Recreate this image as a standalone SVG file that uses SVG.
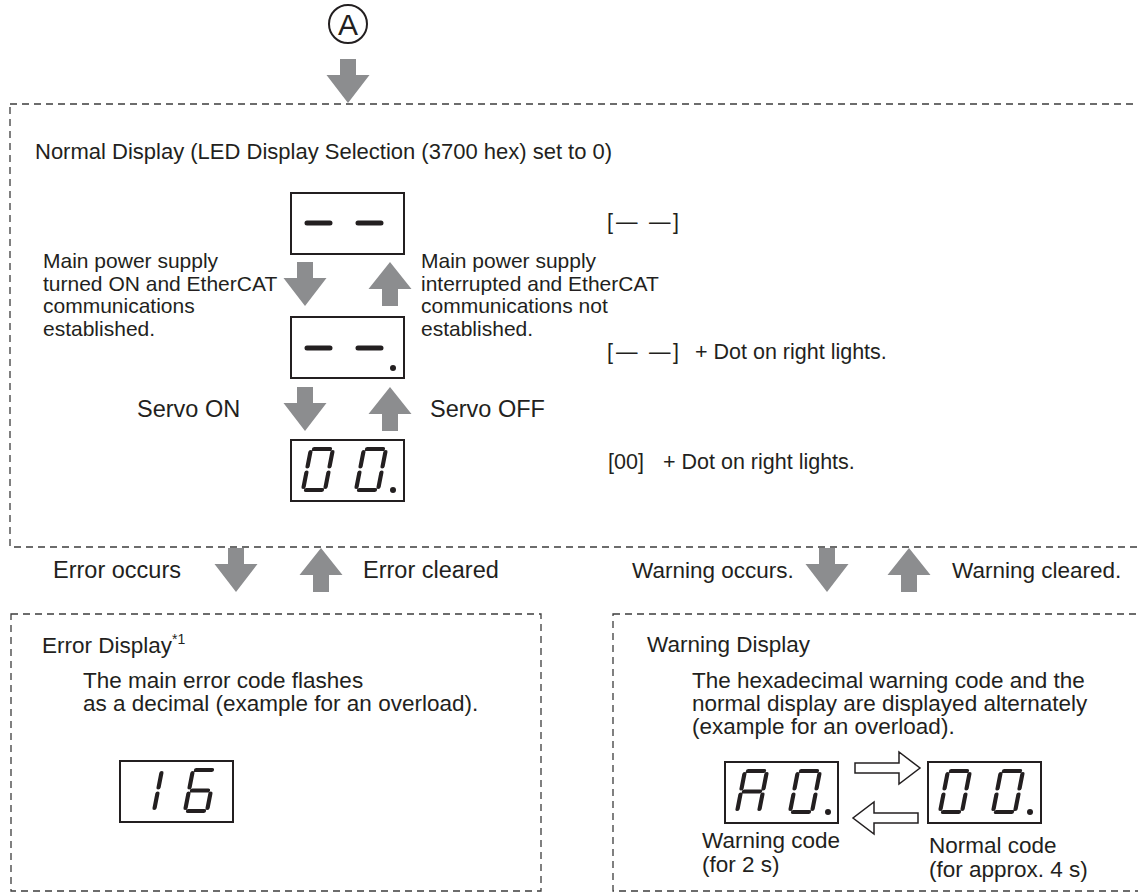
<svg xmlns="http://www.w3.org/2000/svg" width="1138" height="893" viewBox="0 0 1138 893">
<style>
text { font-family: "Liberation Sans", Arial, sans-serif; font-size: 22.5px; fill: #231f20; }
.sm { font-size: 21px; }
.md { font-size: 21.5px; }
.lg { font-size: 23.5px; }
.ttl { font-size: 22px; }
.circ { font-size: 30px; }
.frame { fill: none; stroke: #3c3c3c; stroke-width: 1.3; stroke-dasharray: 7 5; }
.led { fill: #fff; stroke: #231f20; stroke-width: 2; }
.seg { fill: none; stroke: #231f20; stroke-width: 4.2; stroke-linecap: round; }
.dash { fill: none; stroke: #231f20; stroke-width: 5; stroke-linecap: round; }
.dot { fill: #231f20; }
.garrow { fill: #8c8d8f; }
.harrow { fill: #fff; stroke: #231f20; stroke-width: 1.5; }
</style>
<defs>
  <path id="dn" d="M-8,0 H8 V16 H21.5 L0,44 L-21.5,16 H-8 Z"/>
  <path id="up" d="M-8,44 H8 V27 H21.5 L0,0 L-21.5,27 H-8 Z"/>
  <g id="g0" transform="skewX(-11)"><path class="seg" d="M3,-41H19 M22,-38V-23.5 M22,-17.5V-3 M3,0H19 M0,-17.5V-3 M0,-38V-23.5"/></g>
  <g id="gA" transform="skewX(-11)"><path class="seg" d="M3,-41H19 M22,-38V-23.5 M22,-17.5V-3 M0,-17.5V-3 M0,-38V-23.5 M3,-20.5H19"/></g>
  <g id="g1" transform="skewX(-11)"><path class="seg" d="M22,-38V-23.5 M22,-17.5V-3"/></g>
  <g id="g6" transform="skewX(-11)"><path class="seg" d="M3,-41H19 M0,-38V-23.5 M3,-20.5H19 M0,-17.5V-3 M3,0H19 M22,-17.5V-3"/></g>
</defs>

<g id="node-a">
  <circle cx="348" cy="24" r="19" fill="none" stroke="#231f20" stroke-width="2"/>
  <text class="circ" x="348" y="35" text-anchor="middle">A</text>
</g>

<g id="normal-display">
  <rect class="frame" x="10" y="104" width="1140" height="443"/>
  <text class="ttl" x="35" y="159">Normal Display (LED Display Selection (3700 hex) set to 0)</text>
</g>

<g id="disp-off">
  <rect class="led" x="291" y="193" width="113" height="61"/>
  <path class="dash" d="M307,223 H330 M358,223 H381"/>
  <text class="md" y="229"><tspan x="607">[</tspan><tspan x="616">—</tspan><tspan x="649">—</tspan><tspan x="673">]</tspan></text>
</g>

<g id="disp-dot">
  <rect class="led" x="291" y="317" width="113" height="61"/>
  <path class="dash" d="M307,348 H330 M358,348 H381"/>
  <circle class="dot" cx="393" cy="368" r="3"/>
  <text class="md" y="359"><tspan x="607">[</tspan><tspan x="616">—</tspan><tspan x="649">—</tspan><tspan x="673">]</tspan><tspan x="695">+ Dot on right lights.</tspan></text>
</g>

<g id="disp-00">
  <rect class="led" x="291" y="440" width="113" height="61"/>
  <use href="#g0" x="303" y="490"/>
  <use href="#g0" x="356" y="490"/>
  <circle class="dot" cx="393" cy="490" r="3"/>
  <text class="md" y="469"><tspan x="608">[00]</tspan><tspan x="663">+ Dot on right lights.</tspan></text>
</g>

<g id="labels-normal">
  <text class="sm" x="43" y="268">Main power supply</text>
  <text class="sm" x="43" y="291">turned ON and EtherCAT</text>
  <text class="sm" x="43" y="313">communications</text>
  <text class="sm" x="43" y="336">established.</text>
  <text class="sm" x="421" y="268">Main power supply</text>
  <text class="sm" x="421" y="291">interrupted and EtherCAT</text>
  <text class="sm" x="421" y="313">communications not</text>
  <text class="sm" x="421" y="336">established.</text>
  <text class="lg" x="137" y="417">Servo ON</text>
  <text class="lg" x="430" y="417">Servo OFF</text>
  <text class="lg" x="53" y="578">Error occurs</text>
  <text class="lg" x="363" y="578">Error cleared</text>
  <text x="632" y="578">Warning occurs.</text>
  <text x="952" y="578">Warning cleared.</text>
</g>

<g id="error-display">
  <rect class="frame" x="11" y="614" width="530" height="277"/>
  <text x="42" y="653">Error Display<tspan font-size="14" dy="-9">*1</tspan></text>
  <text x="83" y="688">The main error code flashes</text>
  <text x="83" y="711">as a decimal (example for an overload).</text>
  <rect class="led" x="120" y="761" width="113" height="61"/>
  <use href="#g1" x="132" y="811"/>
  <use href="#g6" x="185" y="811"/>
</g>

<g id="warning-display">
  <rect class="frame" x="613" y="614" width="540" height="277"/>
  <text x="647" y="652">Warning Display</text>
  <text x="692" y="688">The hexadecimal warning code and the</text>
  <text x="692" y="711">normal display are displayed alternately</text>
  <text x="692" y="734">(example for an overload).</text>
  <g id="warn-code">
    <rect class="led" x="725" y="762" width="113" height="61"/>
    <use href="#gA" x="737" y="812"/>
    <use href="#g0" x="790" y="812"/>
    <circle class="dot" cx="828" cy="812" r="3"/>
    <text x="702" y="848">Warning code</text>
    <text x="702" y="872">(for 2 s)</text>
  </g>
  <g id="normal-code">
    <rect class="led" x="928" y="762" width="113" height="61"/>
    <use href="#g0" x="940" y="812"/>
    <use href="#g0" x="993" y="812"/>
    <circle class="dot" cx="1030" cy="812" r="3"/>
    <text x="929" y="853">Normal code</text>
    <text x="929" y="877">(for approx. 4 s)</text>
  </g>
</g>

<g id="connectors">
  <use href="#dn" class="garrow" x="348" y="59"/>
  <use href="#dn" class="garrow" x="305" y="262"/>
  <use href="#up" class="garrow" x="390" y="262"/>
  <use href="#dn" class="garrow" x="305" y="387"/>
  <use href="#up" class="garrow" x="390" y="387"/>
  <use href="#dn" class="garrow" x="236" y="548"/>
  <use href="#up" class="garrow" x="321" y="548"/>
  <use href="#dn" class="garrow" x="827" y="548"/>
  <use href="#up" class="garrow" x="909" y="548"/>
  <path class="harrow" d="M855,763 H899 V752 L920,768 L899,784 V773 H855 Z"/>
  <path class="harrow" d="M918,813 H874 V802 L853,818 L874,834 V823 H918 Z"/>
</g>
</svg>
